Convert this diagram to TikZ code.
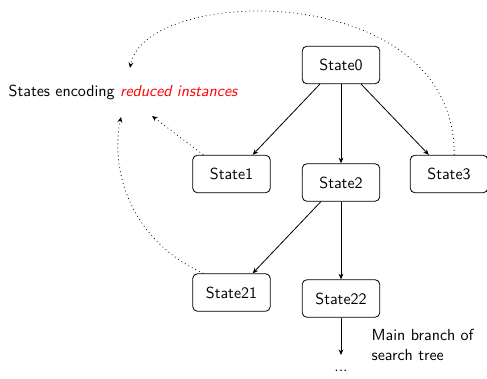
\documentclass[tikz,border=0pt]{standalone}
\usetikzlibrary{arrows.meta}
\begin{document}
\begin{tikzpicture}[x=0.625pt,y=-0.625pt,
  every node/.style={font=\sffamily},
  statebox/.style={draw,rounded corners=3pt,minimum width=48.5pt,minimum height=23.5pt,inner sep=0pt,line width=0.5pt},
  arr/.style={-{Stealth[length=3.5pt,width=3pt]},line width=0.5pt},
  dotarr/.style={dotted,-{Stealth[length=3.5pt,width=3pt]},line width=0.5pt}]
\useasboundingbox (0,0) rectangle (487,378);
\node[statebox] (s0) at (341,65) {State0};
\node[statebox] (s1) at (231.5,174) {State1};
\node[statebox] (s2) at (341,182.5) {State2};
\node[statebox] (s3) at (449,174) {State3};
\node[statebox] (s21) at (231.5,292.5) {State21};
\node[statebox] (s22) at (341,298.5) {State22};
\node (lbl) at (123,92) {States encoding \textcolor{red}{\itshape reduced instances}};
\node[align=left,anchor=west] (mb) at (366,345) {Main branch of\\search tree};
\node (dots) at (341,371) {...};
\coordinate (e22) at (341,355);
\coordinate (t1) at (152,116);
\coordinate (t21) at (121,117);
\coordinate (t3) at (130,68);
\draw[arr] (s0.south west)++(18,0) -- ([xshift=-18*0.625pt]s1.north east);
\draw[arr] (s0) -- (s2);
\draw[arr] (s0.south east)++(-19,0) -- ([xshift=19*0.625pt]s3.north west);
\draw[arr] (s2.south west)++(19,0) -- ([xshift=-18*0.625pt]s21.north east);
\draw[arr] (s2) -- (s22);
\draw[arr] (s22) -- (e22);
\draw[dotarr] ([xshift=11*0.625pt]s1.north west) -- (t1);
\draw[dotarr] ([xshift=11*0.625pt]s21.north west) .. controls (130,240) and (110,170) .. (t21);
\draw[dotarr] ([xshift=-34*0.625pt]s3.north east) .. controls (455,-22) and (145,-15) .. (t3);
\end{tikzpicture}
\end{document}
